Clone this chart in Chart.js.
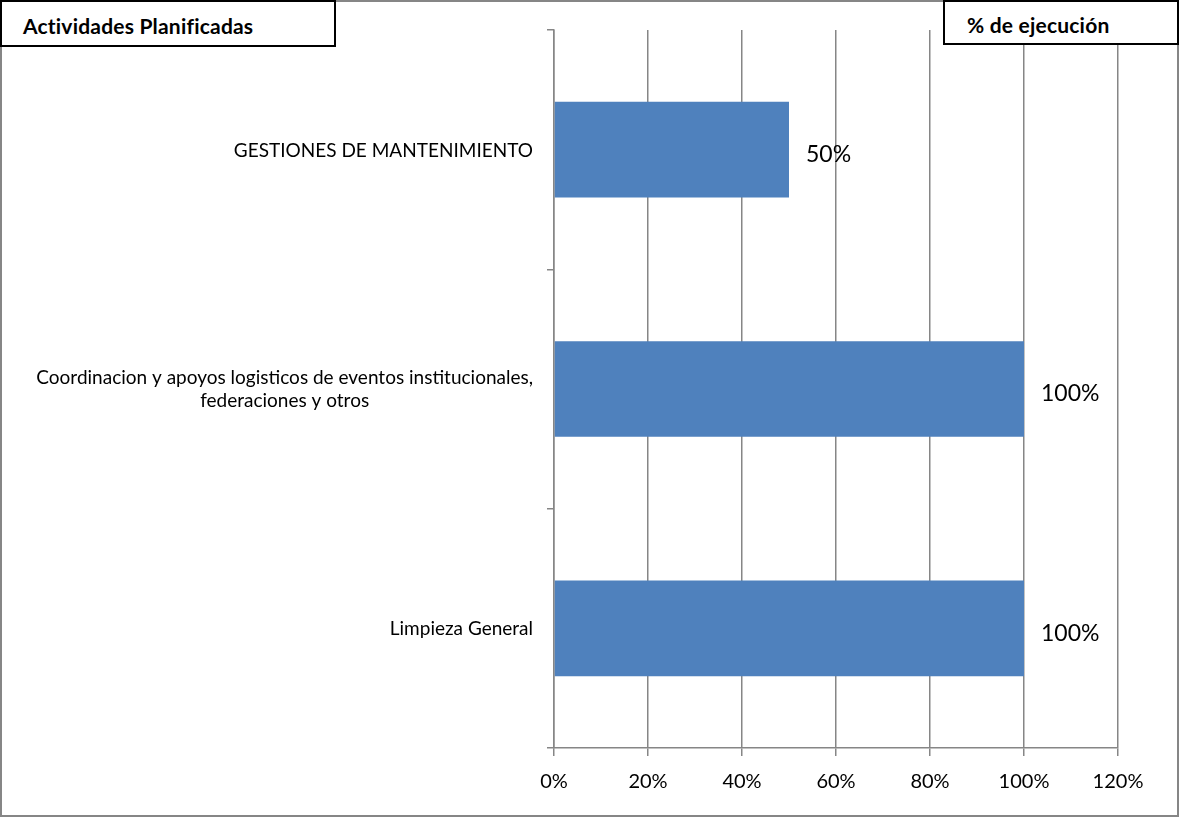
<!DOCTYPE html>
<html>
<head>
<meta charset="utf-8">
<script src="https://cdn.jsdelivr.net/npm/chart.js@4/dist/chart.umd.min.js"></script>
<style>
  html, body { margin: 0; padding: 0; background: #fff; }
  #wrap { position: relative; width: 1179px; height: 817px; }
  canvas { position: absolute; left: 0; top: 0; }
  #frame { position: absolute; left: 0; top: 0; width: 1179px; height: 817px; box-sizing: border-box; border: 2px solid #868686; }
  .hdr { position: absolute; box-sizing: border-box; border: 2px solid #000; background: #fff;
         font-family: Lato, "Open Sans", sans-serif; font-weight: bold; font-size: 21px; color: #000;
         display: flex; align-items: center; letter-spacing: 0.2px; }
</style>
</head>
<body>
<div id="wrap">
  <canvas id="c" width="1179" height="817"></canvas>
  <div id="frame"></div>
  <div class="hdr" style="left:0px; top:0px; width:336px; height:47px; padding-left:21px; padding-top:4px;">Actividades Planificadas</div>
  <div class="hdr" style="left:943px; top:0px; width:236px; height:45px; padding-left:22px; padding-top:4px;">% de ejecución</div>
</div>
<script>
const categories = [
  'GESTIONES DE MANTENIMIENTO',
  ['Coordinacion y apoyos logisticos de eventos institucionales,', 'federaciones y otros'],
  'Limpieza General'
];
const ejecucion = [0.5, 1.0, 1.0];
const xTicks = [0, 0.2, 0.4, 0.6, 0.8, 1.0, 1.2];

const FONT = 'Lato, "Open Sans", sans-serif';

const valueLabels = {
  id: 'valueLabels',
  afterDatasetsDraw(chart) {
    const ctx = chart.ctx;
    const meta = chart.getDatasetMeta(0);
    ctx.save();
    ctx.font = '23px ' + FONT;
    ctx.fillStyle = '#000';
    ctx.textAlign = 'left';
    ctx.textBaseline = 'middle';
    meta.data.forEach((bar, i) => {
      const v = chart.data.datasets[0].data[i];
      ctx.fillText(Math.round(v * 100) + '%', bar.x + 17, bar.y + 5);
    });
    ctx.restore();
  }
};

// category labels: block right-aligned, lines centred within the block
const categoryLabels = {
  id: 'categoryLabels',
  afterDraw(chart) {
    const ctx = chart.ctx;
    const yScale = chart.scales.y;
    const rightEdge = yScale.right - 21;
    const lineH = 23;
    ctx.save();
    ctx.font = '19px ' + FONT;
    ctx.fillStyle = '#000';
    ctx.textBaseline = 'middle';
    ctx.textAlign = 'center';
    chart.data.labels.forEach((lab, i) => {
      const lines = Array.isArray(lab) ? lab : [lab];
      const widest = Math.max(...lines.map(l => ctx.measureText(l).width));
      const cx = rightEdge - widest / 2;
      const yc = yScale.getPixelForValue(i) + 1;
      const y0 = yc - (lines.length - 1) * lineH / 2 - (lines.length > 1 ? 1 : 0);
      lines.forEach((l, k) => ctx.fillText(l, cx, y0 + k * lineH));
    });
    ctx.restore();
  }
};

new Chart(document.getElementById('c'), {
  type: 'bar',
  data: {
    labels: categories,
    datasets: [{
      data: ejecucion,
      backgroundColor: '#4F81BD',
      borderWidth: 0,
      categoryPercentage: 0.4,
      barPercentage: 1.0
    }]
  },
  plugins: [valueLabels, categoryLabels],
  options: {
    indexAxis: 'y',
    responsive: false,
    animation: false,
    layout: { padding: { left: 0, right: 61, top: 30, bottom: 0 } },
    plugins: { legend: { display: false }, tooltip: { enabled: false } },
    scales: {
      x: {
        min: 0, max: 1.2,
        afterBuildTicks(scale) { scale.ticks = xTicks.map(v => ({ value: v })); },
        afterFit(scale) { scale.height = 69; },
        ticks: {
          padding: 14,
          color: '#000',
          font: { family: FONT, size: 20 },
          callback: v => Math.round(v * 100) + '%',
          maxRotation: 0
        },
        grid: { color: '#868686', lineWidth: 1.5, tickLength: 8 },
        border: { color: '#868686', width: 1.5 }
      },
      y: {
        afterFit(scale) { scale.width = 554; },
        ticks: { display: false },
        grid: { color: '#868686', lineWidth: 1.5, drawOnChartArea: false, tickLength: 7, offset: true },
        border: { color: '#868686', width: 1.5 }
      }
    }
  }
});
</script>
</body>
</html>
